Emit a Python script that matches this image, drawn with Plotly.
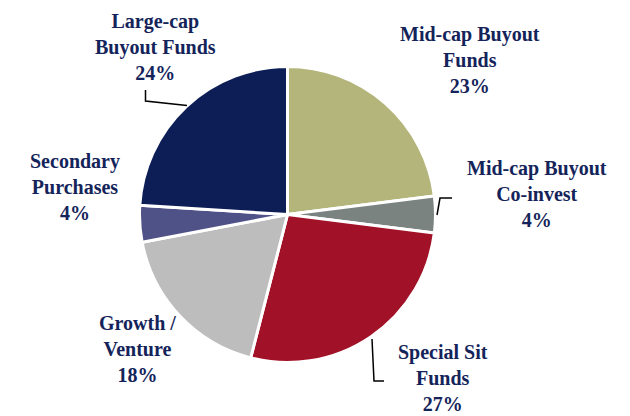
import plotly.graph_objects as go

labels = ["Mid-cap Buyout Funds", "Mid-cap Buyout Co-invest", "Special Sit Funds",
          "Growth / Venture", "Secondary Purchases", "Large-cap Buyout Funds"]
values = [23, 4, 27, 18, 4, 24]
colors = ["#B3B57B", "#7B8380", "#A11228", "#BDBDBD", "#4F5287", "#0C1E55"]
label_text = ["Mid-cap Buyout<br>Funds<br>23%", "Mid-cap Buyout<br>Co-invest<br>4%",
              "Special Sit<br>Funds<br>27%", "Growth /<br>Venture<br>18%",
              "Secondary<br>Purchases<br>4%", "Large-cap<br>Buyout Funds<br>24%"]
label_pos = [(470, 60), (537, 194), (443, 378), (137, 349), (75, 187), (155, 47)]

W, H = 630, 416
OFF = 8  # page body margin
cx, cy, r = 287.5, 214.5, 148


def px(x):
    return (x - OFF) / W


def py(y):
    return 1 - (y - OFF) / H


fig = go.Figure(go.Pie(
    labels=labels, values=values, sort=False, direction="clockwise", rotation=0,
    marker=dict(colors=colors, line=dict(color="white", width=3)),
    textinfo="none", hoverinfo="label+percent",
    domain=dict(x=[px(cx - r), px(cx + r)], y=[py(cy + r), py(cy - r)]),
    showlegend=False,
))

for t, (x, y) in zip(label_text, label_pos):
    fig.add_annotation(x=px(x), y=py(y), xref="paper", yref="paper", text="<b>" + t + "</b>",
                       showarrow=False, xanchor="center", yanchor="middle", align="center",
                       font=dict(family="Liberation Serif", size=20, color="#14245A"))

leaders = [
    [(145.5, 90), (145.5, 101), (187, 105.5)],
    [(437, 215), (440, 198), (452, 198)],
    [(372, 339), (374, 381), (384, 381)],
]
for pts in leaders:
    path = "M " + " L ".join(f"{px(x)},{py(y)}" for x, y in pts)
    fig.add_shape(type="path", path=path, xref="paper", yref="paper",
                  line=dict(color="black", width=1.5))

fig.update_layout(width=W, height=H, margin=dict(l=0, r=0, t=0, b=0),
                  paper_bgcolor="white", plot_bgcolor="white")
fig.write_html("out.html")
